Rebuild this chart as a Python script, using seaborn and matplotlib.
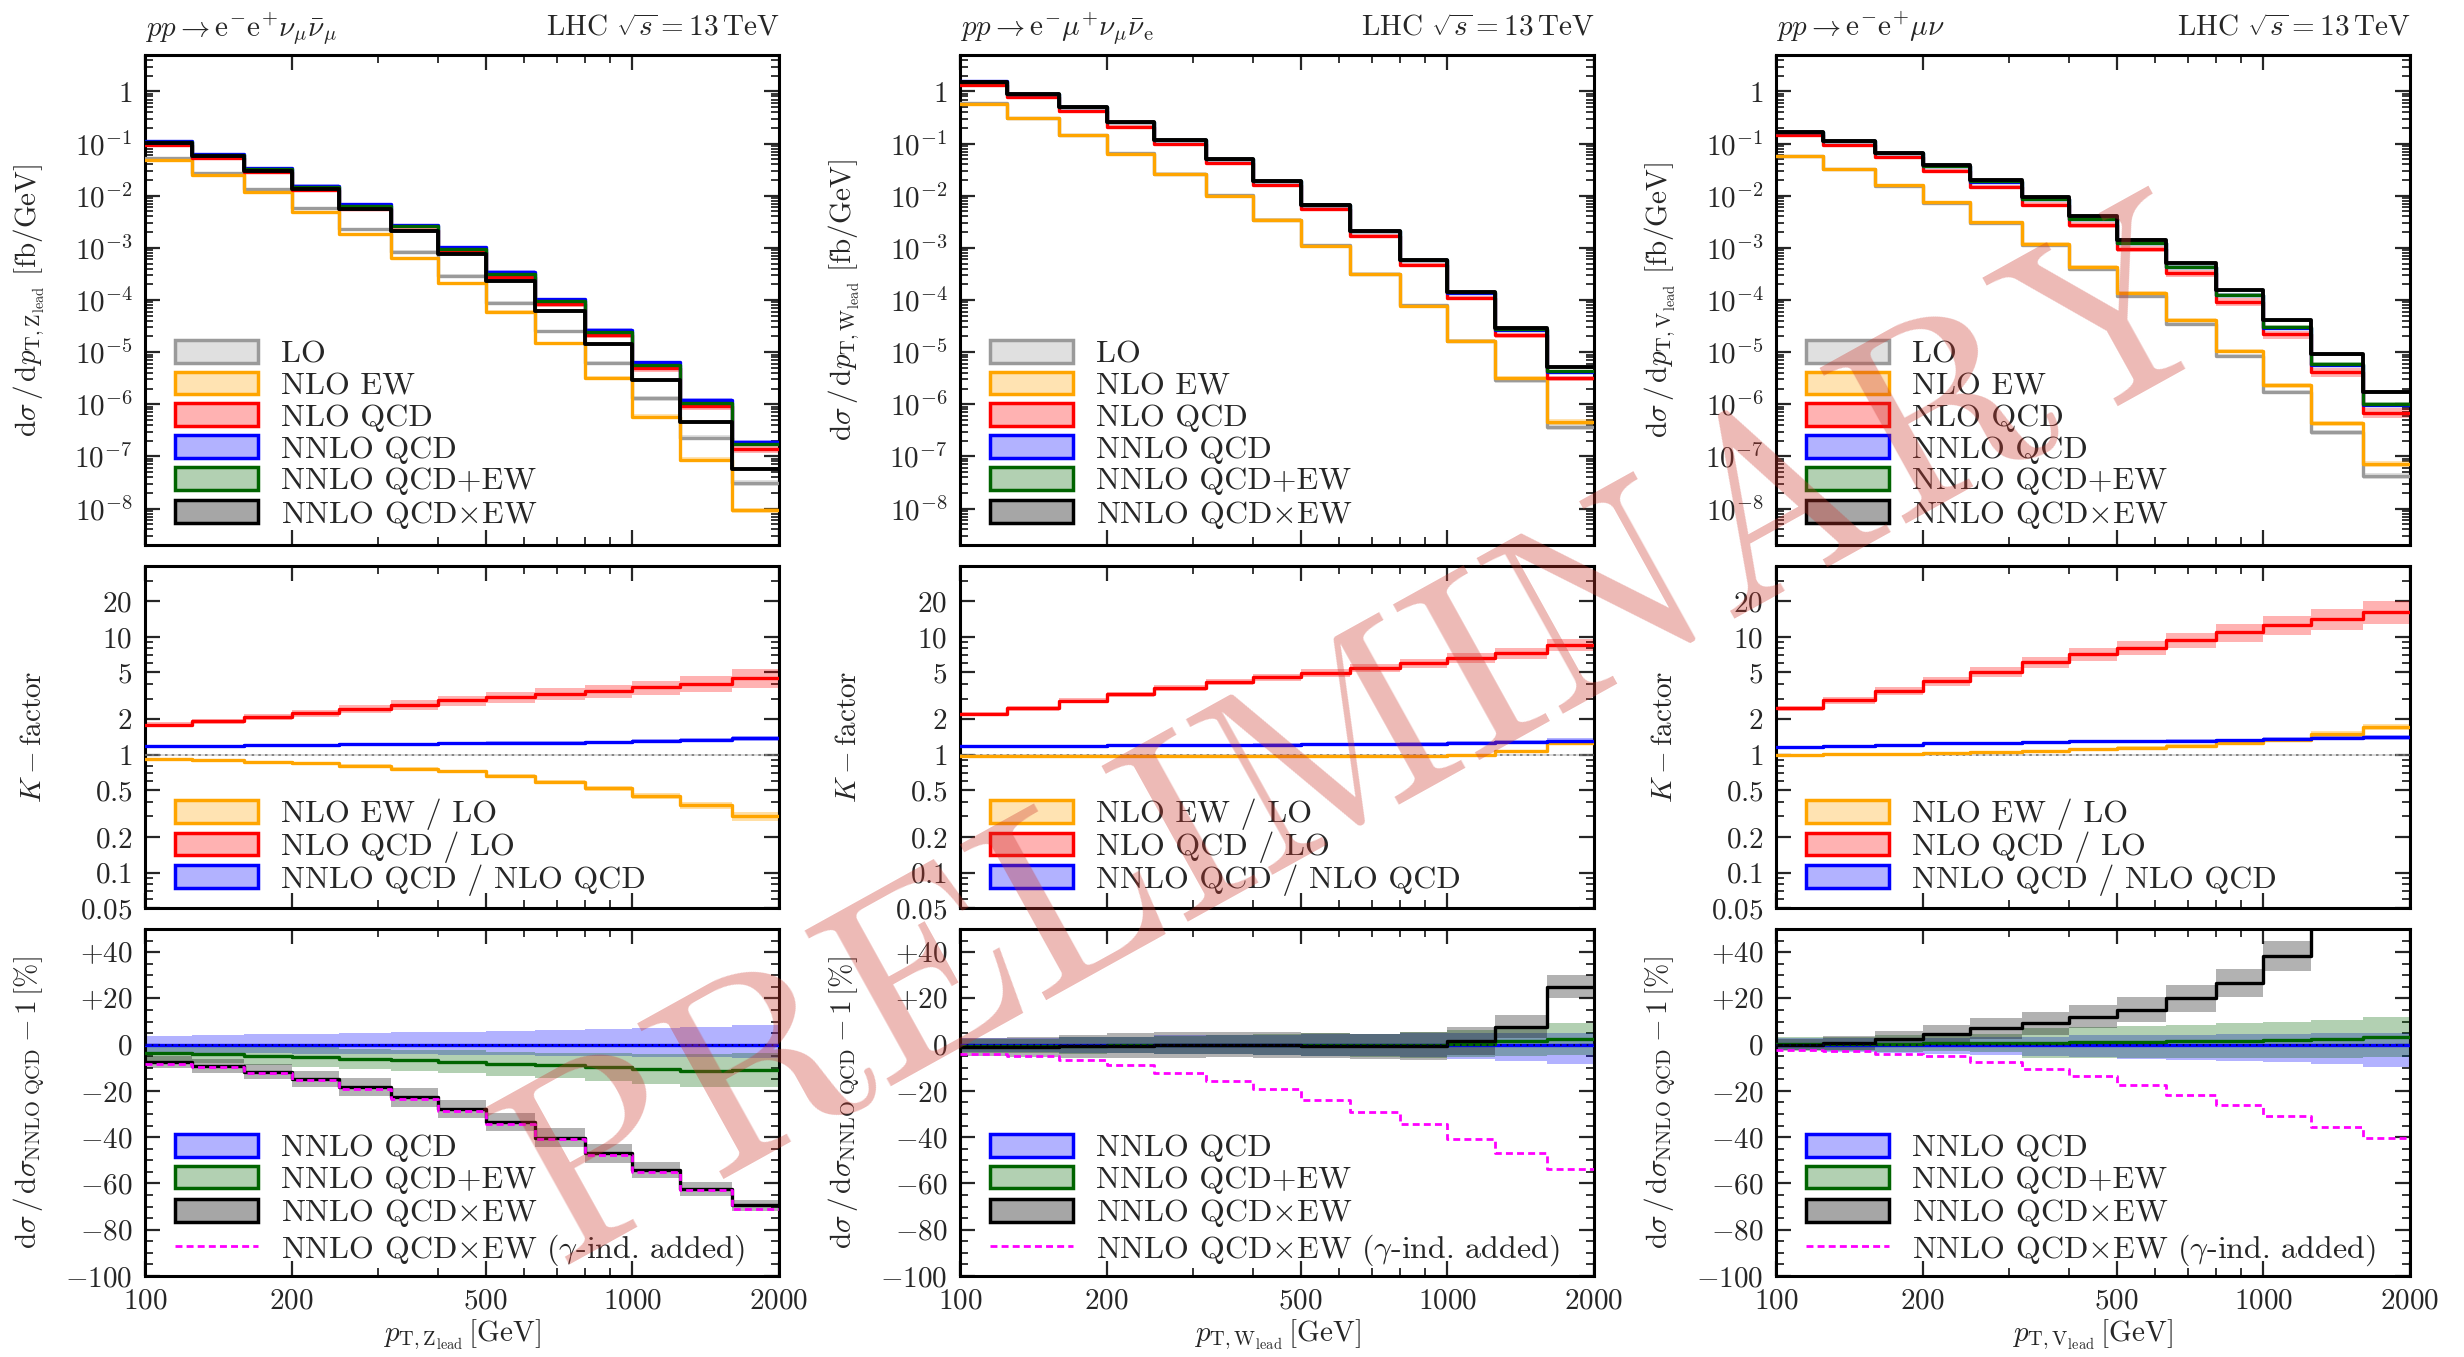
import numpy as np
import matplotlib
matplotlib.use("Agg")
import matplotlib.pyplot as plt
import seaborn as sns
from matplotlib.patches import Patch
from matplotlib.lines import Line2D
from matplotlib.ticker import FixedLocator, NullFormatter, LogLocator

# ---------------- data ----------------
bin_edges = [100, 125, 160, 200, 250, 320, 400, 500, 630, 800, 1000, 1250, 1600, 2000]
x_major = [100, 200, 500, 1000, 2000]
x_minor = [300, 400, 600, 700, 800, 900]

# Column 1: pp -> e- e+ nu_mu nubar_mu  (pT,Z_lead)
lo_1 = [0.053, 0.0276, 0.0134, 0.0057, 0.00226, 8.4e-4, 2.9e-4, 8.9e-5, 2.5e-5, 6.1e-6, 1.3e-6, 2.3e-7, 3.1e-8]
nloew_1 = [0.049, 0.0247, 0.0117, 0.0048, 0.00183, 6.4e-4, 2.1e-4, 5.85e-5, 1.48e-5, 3.17e-6, 5.8e-7, 8.6e-8, 9.3e-9]
nloqcd_1 = [0.095, 0.053, 0.0279, 0.0129, 0.0055, 0.00223, 8.4e-4, 2.76e-4, 8.2e-5, 2.12e-5, 4.9e-6, 9.2e-7, 1.39e-7]
nnloqcd_1 = [0.112, 0.063, 0.0338, 0.0157, 0.0068, 0.00277, 1.05e-3, 3.48e-4, 1.04e-4, 2.71e-5, 6.4e-6, 1.22e-6, 1.92e-7]
plusew_1 = [0.108, 0.0604, 0.0322, 0.01485, 0.00639, 0.00258, 9.72e-4, 3.19e-4, 9.46e-5, 2.45e-5, 5.72e-6, 1.08e-6, 1.71e-7]
timesew_1 = [0.1036, 0.0573, 0.0299, 0.01338, 0.00555, 0.00214, 7.57e-4, 2.31e-4, 6.22e-5, 1.44e-5, 2.92e-6, 4.6e-7, 5.86e-8]
k_ew_1 = [0.925, 0.896, 0.873, 0.845, 0.808, 0.762, 0.724, 0.657, 0.592, 0.52, 0.449, 0.374, 0.30]
k_qcd_1 = [1.80, 1.93, 2.08, 2.26, 2.44, 2.66, 2.89, 3.10, 3.29, 3.48, 3.74, 4.02, 4.49]
k_nnlo_1 = [1.175, 1.19, 1.21, 1.22, 1.23, 1.24, 1.25, 1.26, 1.27, 1.28, 1.30, 1.33, 1.38]
d_plusew_1 = [-3.6, -4.2, -4.8, -5.4, -6.1, -6.7, -7.4, -8.3, -9.0, -9.7, -10.7, -11.2, -10.9]
d_timesew_1 = [-7.5, -9.1, -11.6, -14.8, -18.4, -22.8, -27.9, -33.5, -40.2, -47.0, -54.3, -62.3, -69.5]
d_gamma_1 = [-8.2, -9.8, -12.3, -15.4, -19.0, -23.4, -28.5, -34.1, -40.8, -47.6, -55.0, -63.0, -71.0]
# uncertainty bands [%]
u_ew_1 = [2, 2, 2, 2, 3, 3, 3, 4, 4, 5, 6, 7, 8]
u_qcd_1 = [5, 5, 6, 7, 8, 9, 10, 11, 12, 13, 14, 16, 18]
u_nnlo_up_1 = [3.6, 4.0, 4.4, 4.8, 5.0, 5.3, 5.6, 6.0, 6.4, 6.8, 7.2, 7.8, 8.4]
u_nnlo_dn_1 = [3.6, 3.6, 3.8, 4.0, 4.0, 4.2, 4.4, 4.6, 4.8, 5.0, 5.2, 5.4, 5.6]
u_plusew_1 = [3.6, 3.8, 4.0, 4.2, 4.4, 4.6, 4.9, 5.2, 5.6, 6.0, 6.5, 7.0, 7.3]
u_timesew_1 = [2.7, 3.0, 3.3, 3.6, 4.0, 4.0, 4.0, 4.0, 4.0, 4.0, 3.5, 3.0, 2.5]

# Column 2: pp -> e- mu+ nu_mu nubar_e  (pT,W_lead)
lo_2 = [0.595, 0.313, 0.147, 0.065, 0.0265, 0.0101, 0.00347, 0.00112, 3.16e-4, 7.85e-5, 1.66e-5, 2.9e-6, 3.7e-7]
nloew_2 = [0.577, 0.305, 0.144, 0.0637, 0.0261, 0.00995, 0.00342, 0.0011, 3.1e-4, 7.7e-5, 1.66e-5, 3.13e-6, 4.63e-7]
nloqcd_2 = [1.327, 0.773, 0.422, 0.2126, 0.0978, 0.0419, 0.01575, 0.00553, 0.00172, 4.71e-4, 1.104e-4, 2.12e-5, 3.18e-6]
nnloqcd_2 = [1.559, 0.912, 0.502, 0.2551, 0.1183, 0.0509, 0.01922, 0.00677, 0.002116, 5.84e-4, 1.391e-4, 2.71e-5, 4.2e-6]
plusew_2 = [1.551, 0.907, 0.500, 0.2543, 0.1181, 0.0509, 0.01922, 0.00676, 0.002112, 5.83e-4, 1.398e-4, 2.75e-5, 4.31e-6]
timesew_2 = [1.543, 0.903, 0.4985, 0.2541, 0.1181, 0.0509, 0.0192, 0.00674, 0.002101, 5.80e-4, 1.412e-4, 2.92e-5, 5.25e-6]
k_ew_2 = [0.97, 0.975, 0.98, 0.98, 0.985, 0.985, 0.985, 0.98, 0.98, 0.98, 1.0, 1.08, 1.25]
k_qcd_2 = [2.23, 2.47, 2.87, 3.27, 3.69, 4.15, 4.54, 4.94, 5.44, 6.0, 6.65, 7.3, 8.6]
k_nnlo_2 = [1.175, 1.18, 1.19, 1.20, 1.21, 1.215, 1.22, 1.225, 1.23, 1.24, 1.26, 1.28, 1.32]
d_plusew_2 = [-0.5, -0.5, -0.4, -0.3, -0.2, 0.0, 0.0, -0.1, -0.2, -0.2, 0.5, 1.5, 2.5]
d_timesew_2 = [-1.0, -1.0, -0.7, -0.4, -0.2, 0.0, -0.1, -0.4, -0.7, -0.7, 1.5, 7.7, 25.0]
d_gamma_2 = [-3.9, -4.9, -6.8, -9.0, -12.2, -15.5, -19.3, -23.8, -29.3, -34.5, -40.6, -47.0, -53.7]
u_ew_2 = [1, 1, 1, 1, 1, 1, 1, 1, 1, 1, 2, 2, 3]
u_qcd_2 = [4, 4, 5, 5, 6, 6, 7, 8, 8, 9, 10, 11, 12]
u_nnlo_up_2 = [3.0, 3.0, 3.5, 3.5, 4.0, 4.0, 4.0, 4.5, 4.5, 5.0, 5.0, 5.0, 5.0]
u_nnlo_dn_2 = [3.0, 3.0, 3.5, 3.5, 4.0, 4.0, 4.5, 5.0, 5.0, 5.5, 6.0, 7.0, 8.5]
u_plusew_2 = [3.0, 3.0, 3.5, 3.5, 4.0, 4.0, 4.5, 5.0, 5.0, 5.5, 6.0, 6.5, 7.0]
u_timesew_2 = [4.0, 4.5, 5.0, 5.5, 5.5, 5.5, 5.5, 5.5, 5.5, 6.0, 6.0, 5.0, 5.0]

# Column 3: pp -> e- e+ mu nu  (pT,V_lead)
lo_3 = [0.058, 0.0327, 0.0156, 0.0072, 0.00295, 0.00111, 3.9e-4, 1.18e-4, 3.45e-5, 8.4e-6, 1.72e-6, 2.9e-7, 4.2e-8]
nloew_3 = [0.058, 0.033, 0.0159, 0.00742, 0.0031, 0.0012, 4.37e-4, 1.357e-4, 4.1e-5, 1.05e-5, 2.3e-6, 4.35e-7, 7.27e-8]
nloqcd_3 = [0.1433, 0.0945, 0.0543, 0.0302, 0.01484, 0.00675, 0.002785, 9.59e-4, 3.25e-4, 9.24e-5, 2.18e-5, 4.15e-6, 6.89e-7]
nnloqcd_3 = [0.1662, 0.1125, 0.0657, 0.03775, 0.0187, 0.00864, 0.00362, 0.001247, 4.26e-4, 1.229e-4, 2.965e-5, 5.73e-6, 9.71e-7]
plusew_3 = [0.1667, 0.1129, 0.066, 0.03798, 0.01883, 0.00871, 0.003656, 0.001262, 4.32e-4, 1.25e-4, 3.02e-5, 5.88e-6, 1.003e-6]
timesew_3 = [0.1662, 0.1135, 0.0673, 0.03945, 0.02001, 0.00944, 0.004054, 0.001437, 5.11e-4, 1.556e-4, 4.1e-5, 9.05e-6, 1.748e-6]
k_ew_3 = [1.0, 1.01, 1.02, 1.03, 1.05, 1.08, 1.12, 1.15, 1.19, 1.25, 1.34, 1.50, 1.73]
k_qcd_3 = [2.47, 2.89, 3.48, 4.2, 5.03, 6.08, 7.14, 8.13, 9.43, 11.0, 12.7, 14.3, 16.4]
k_nnlo_3 = [1.16, 1.19, 1.21, 1.25, 1.26, 1.28, 1.30, 1.30, 1.31, 1.33, 1.36, 1.38, 1.41]
d_plusew_3 = [0.3, 0.4, 0.5, 0.6, 0.7, 0.8, 1.0, 1.2, 1.4, 1.7, 2.0, 2.6, 3.3]
d_timesew_3 = [0.0, 0.9, 2.5, 4.5, 7.0, 9.3, 12.0, 15.2, 20.0, 26.6, 38.2, 58.0, 80.0]
d_gamma_3 = [-2.5, -2.9, -3.9, -4.9, -7.5, -10.4, -13.6, -17.4, -21.6, -26.0, -30.8, -35.6, -40.3]
u_ew_3 = [1, 1, 1, 2, 2, 2, 2, 3, 3, 3, 4, 5, 6]
u_qcd_3 = [5, 6, 7, 8, 10, 11, 13, 14, 15, 17, 18, 20, 22]
u_nnlo_up_3 = [3.0, 3.0, 3.0, 3.0, 3.5, 3.5, 4.0, 4.0, 4.0, 4.5, 4.5, 5.0, 5.0]
u_nnlo_dn_3 = [2.5, 3.0, 3.5, 4.0, 4.5, 5.0, 5.5, 6.0, 6.5, 7.0, 7.5, 8.5, 9.7]
u_plusew_3 = [3.0, 3.0, 3.5, 3.5, 4.0, 6.5, 6.8, 7.0, 7.2, 7.5, 7.8, 8.2, 8.5]
u_timesew_3 = [2.5, 3.0, 3.5, 4.0, 4.5, 5.0, 5.0, 5.5, 6.0, 6.0, 6.5, 7.0, 7.0]

u_lo = [4, 4, 5, 5, 6, 6, 7, 8, 8, 9, 10, 11, 12]
u_knnlo = [2, 2, 2, 2, 2, 2, 3, 3, 3, 3, 4, 4, 5]

process_titles = [r'$pp\rightarrow \mathrm{e^{-}e^{+}}\nu_{\mu}\bar{\nu}_{\mu}$',
                  r'$pp\rightarrow \mathrm{e^{-}}\mu^{+}\nu_{\mu}\bar{\nu}_{\mathrm{e}}$',
                  r'$pp\rightarrow \mathrm{e^{-}e^{+}}\mu\nu$']
boson_labels = ['Z', 'W', 'V']
energy_title = r'LHC $\sqrt{s}=13\,\mathrm{TeV}$'

top_labels = ['LO', 'NLO EW', 'NLO QCD', 'NNLO QCD', 'NNLO QCD+EW', r'NNLO QCD$\times$EW']
k_labels = ['NLO EW / LO', 'NLO QCD / LO', 'NNLO QCD / NLO QCD']
ratio_labels = ['NNLO QCD', 'NNLO QCD+EW', r'NNLO QCD$\times$EW', r'NNLO QCD$\times$EW ($\gamma$-ind. added)']

columns = [
    dict(lo=lo_1, ew=nloew_1, qcd=nloqcd_1, nnlo=nnloqcd_1, pew=plusew_1, tew=timesew_1,
         kew=k_ew_1, kqcd=k_qcd_1, knnlo=k_nnlo_1, dp=d_plusew_1, dt=d_timesew_1, dg=d_gamma_1,
         uew=u_ew_1, uqcd=u_qcd_1, unu=u_nnlo_up_1, und=u_nnlo_dn_1, up=u_plusew_1, ut=u_timesew_1),
    dict(lo=lo_2, ew=nloew_2, qcd=nloqcd_2, nnlo=nnloqcd_2, pew=plusew_2, tew=timesew_2,
         kew=k_ew_2, kqcd=k_qcd_2, knnlo=k_nnlo_2, dp=d_plusew_2, dt=d_timesew_2, dg=d_gamma_2,
         uew=u_ew_2, uqcd=u_qcd_2, unu=u_nnlo_up_2, und=u_nnlo_dn_2, up=u_plusew_2, ut=u_timesew_2),
    dict(lo=lo_3, ew=nloew_3, qcd=nloqcd_3, nnlo=nnloqcd_3, pew=plusew_3, tew=timesew_3,
         kew=k_ew_3, kqcd=k_qcd_3, knnlo=k_nnlo_3, dp=d_plusew_3, dt=d_timesew_3, dg=d_gamma_3,
         uew=u_ew_3, uqcd=u_qcd_3, unu=u_nnlo_up_3, und=u_nnlo_dn_3, up=u_plusew_3, ut=u_timesew_3),
]

# ---------------- style ----------------
sns.set_theme(style="ticks")
plt.rcParams['font.family'] = ['cmr10', 'DejaVu Serif']
plt.rcParams['mathtext.fontset'] = 'cm'
plt.rcParams['axes.formatter.use_mathtext'] = True
plt.rcParams['axes.unicode_minus'] = True

C_LO = '#9a9a9a'
C_EW = '#ffa500'
C_QCD = '#ff0000'
C_NNLO = '#0000ff'
C_PEW = '#006400'
C_TEW = '#000000'
C_GAM = '#ff00ff'
LW = 2.4
FS_TICK = 21
FS_LAB = 21
FS_LEG = 23

edges = np.array(bin_edges, dtype=float)


def ext(v):
    v = np.asarray(v, dtype=float)
    return np.append(v, v[-1])


def step_line(ax, vals, color, lw=LW, ls='-', z=3):
    sns.lineplot(x=edges, y=ext(vals), ax=ax, color=color, lw=lw, linestyle=ls,
                 drawstyle='steps-post', estimator=None, sort=False, legend=False, zorder=z)


def band(ax, lo, hi, color, alpha, z=2):
    ax.fill_between(edges, ext(lo), ext(hi), step='post', color=color, alpha=alpha, lw=0, zorder=z)


def rel_band(ax, vals, pct, color, alpha, z=2):
    v = np.asarray(vals, float)
    p = np.asarray(pct, float) / 100.0
    band(ax, v * (1 - p), v * (1 + p), color, alpha, z)


def style_x(ax, labels):
    ax.set_xscale('log')
    ax.set_xlim(100, 2000)
    ax.xaxis.set_major_locator(FixedLocator(x_major))
    ax.xaxis.set_minor_locator(FixedLocator(x_minor))
    ax.xaxis.set_minor_formatter(NullFormatter())
    if labels:
        ax.set_xticklabels([f'${v}$' for v in x_major])
    else:
        ax.set_xticklabels([])
    ax.tick_params(which='both', direction='in', top=True, right=True, labelsize=FS_TICK, pad=9)
    ax.tick_params(which='major', length=11, width=1.6)
    ax.tick_params(which='minor', length=6, width=1.3)
    for s in ax.spines.values():
        s.set_linewidth(2.2)
        s.set_color('black')


def leg_patch(color, alpha=0.3):
    from matplotlib.colors import to_rgba
    return Patch(facecolor=to_rgba(color, alpha), edgecolor=color, lw=2.5)


LEG_KW = dict(loc='lower left', frameon=False, fontsize=FS_LEG, handlelength=2.6, handleheight=0.72,
              handletextpad=0.7, borderaxespad=0.0, borderpad=0.25)

fig = plt.figure(figsize=(24.64, 13.57), dpi=100)
col_left = [145 / 2464, 960 / 2464, 1776 / 2464]
col_w = 634 / 2464
rows = [(1 - 545 / 1357, 490 / 1357), (1 - 908 / 1357, 342 / 1357), (1 - 1276 / 1357, 347 / 1357)]

for ci, d in enumerate(columns):
    b = boson_labels[ci]
    ax_t = fig.add_axes([col_left[ci], rows[0][0], col_w, rows[0][1]])
    ax_k = fig.add_axes([col_left[ci], rows[1][0], col_w, rows[1][1]])
    ax_r = fig.add_axes([col_left[ci], rows[2][0], col_w, rows[2][1]])

    # ---------- top panel ----------
    ax_t.set_yscale('log')
    nnlo = np.asarray(d['nnlo'], float)
    rel_band(ax_t, d['lo'], u_lo, C_LO, 0.3)
    rel_band(ax_t, d['ew'], u_lo, C_EW, 0.3)
    rel_band(ax_t, d['qcd'], d['uqcd'], C_QCD, 0.3)
    band(ax_t, nnlo * (1 - np.asarray(d['und']) / 100), nnlo * (1 + np.asarray(d['unu']) / 100), C_NNLO, 0.3)
    rel_band(ax_t, d['pew'], d['up'], C_PEW, 0.3)
    rel_band(ax_t, d['tew'], d['ut'], C_TEW, 0.3)
    step_line(ax_t, d['lo'], C_LO)
    step_line(ax_t, d['ew'], C_EW)
    step_line(ax_t, d['qcd'], C_QCD)
    step_line(ax_t, d['nnlo'], C_NNLO)
    step_line(ax_t, d['pew'], C_PEW)
    step_line(ax_t, d['tew'], C_TEW, lw=LW + 0.4)
    ax_t.set_ylim(2e-9, 5)
    style_x(ax_t, False)
    yt = [10.0 ** e for e in range(-8, 1)]
    ax_t.yaxis.set_major_locator(FixedLocator(yt))
    ax_t.set_yticklabels(['$1$' if e == 0 else f'$10^{{{e}}}$' for e in range(-8, 1)])
    ax_t.yaxis.set_minor_locator(LogLocator(base=10, subs=np.arange(2, 10), numticks=30))
    ax_t.yaxis.set_minor_formatter(NullFormatter())
    ax_t.set_ylabel(r'$\mathrm{d}\sigma\,/\,\mathrm{d}p_{\mathrm{T},\mathrm{%s_{lead}}}\ [\mathrm{fb}/\mathrm{GeV}]$' % b,
                    fontsize=FS_LAB)
    ax_t.set_title(process_titles[ci], loc='left', fontsize=21, pad=14)
    ax_t.set_title(energy_title, loc='right', fontsize=21, pad=14)
    handles = [leg_patch(C_LO), leg_patch(C_EW), leg_patch(C_QCD), leg_patch(C_NNLO),
               leg_patch(C_PEW), leg_patch(C_TEW, 0.35)]
    ax_t.legend(handles, top_labels, bbox_to_anchor=(0.035, 0.013), labelspacing=0.1, **LEG_KW)

    # ---------- K-factor panel ----------
    ax_k.set_yscale('log')
    ones = np.ones(len(edges) - 1)
    band(ax_k, ones * 0.985, ones * 1.015, C_LO, 0.35)
    ax_k.plot([100, 2000], [1, 1], color='#777777', lw=1.2, ls=(0, (1.5, 2.5)), zorder=3)
    rel_band(ax_k, d['kew'], d['uew'], C_EW, 0.35)
    rel_band(ax_k, d['kqcd'], d['uqcd'], C_QCD, 0.3)
    rel_band(ax_k, d['knnlo'], u_knnlo, C_NNLO, 0.3)
    step_line(ax_k, d['kew'], C_EW)
    step_line(ax_k, d['kqcd'], C_QCD)
    step_line(ax_k, d['knnlo'], C_NNLO)
    ax_k.set_ylim(0.05, 40)
    style_x(ax_k, False)
    kt = [0.05, 0.1, 0.2, 0.5, 1, 2, 5, 10, 20]
    ax_k.yaxis.set_major_locator(FixedLocator(kt))
    ax_k.set_yticklabels(['$0.05$', '$0.1$', '$0.2$', '$0.5$', '$1$', '$2$', '$5$', '$10$', '$20$'])
    ax_k.yaxis.set_minor_locator(LogLocator(base=10, subs=np.arange(2, 10), numticks=30))
    ax_k.yaxis.set_minor_formatter(NullFormatter())
    ax_k.set_ylabel(r'$K-\mathrm{factor}$', fontsize=FS_LAB, labelpad=18)
    ax_k.legend([leg_patch(C_EW), leg_patch(C_QCD), leg_patch(C_NNLO)], k_labels,
                bbox_to_anchor=(0.035, 0.012), labelspacing=0.04, **LEG_KW)

    # ---------- relative panel ----------
    zeros = np.zeros(len(edges) - 1)
    band(ax_r, -np.asarray(d['und'], float), np.asarray(d['unu'], float), C_NNLO, 0.3)
    dp = np.asarray(d['dp'], float)
    dt = np.asarray(d['dt'], float)
    band(ax_r, dp - np.asarray(d['up']), dp + np.asarray(d['up']), C_PEW, 0.3)
    band(ax_r, dt - np.asarray(d['ut']), dt + np.asarray(d['ut']), C_TEW, 0.3)
    step_line(ax_r, zeros, C_NNLO)
    ax_r.plot([100, 2000], [0, 0], color='#000044', lw=1.2, ls=(0, (1, 3)), zorder=4)
    step_line(ax_r, dp, C_PEW)
    step_line(ax_r, dt, C_TEW)
    step_line(ax_r, d['dg'], C_GAM, lw=2.0, ls=(0, (2.5, 1.5)), z=5)
    ax_r.set_ylim(-100, 50)
    style_x(ax_r, True)
    rt = list(range(-100, 41, 20))
    ax_r.yaxis.set_major_locator(FixedLocator(rt))
    ax_r.set_yticklabels([('$+%d$' % v) if v > 0 else ('$%d$' % v) for v in rt])
    ax_r.yaxis.set_minor_locator(FixedLocator(list(range(-95, 50, 5))))
    ax_r.set_ylabel(r'$\mathrm{d}\sigma\,/\,\mathrm{d}\sigma_{\mathrm{NNLO\ QCD}}-1\,[\%]$', fontsize=FS_LAB)
    ax_r.set_xlabel(r'$p_{\mathrm{T},\mathrm{%s_{lead}}}\,[\mathrm{GeV}]$' % b, fontsize=FS_LAB, labelpad=2)
    r_handles = [leg_patch(C_NNLO), leg_patch(C_PEW), leg_patch(C_TEW, 0.35),
                 Line2D([0], [0], color=C_GAM, lw=2.0, ls=(0, (2.5, 1.5)))]
    ax_r.legend(r_handles, ratio_labels, bbox_to_anchor=(0.035, 0.0), labelspacing=0.1, **LEG_KW)

    for ax in (ax_t, ax_k, ax_r):
        ax.yaxis.set_label_coords(-0.155, 0.5)

fig.text(0.555, 0.452, 'PRELIMINARY', rotation=29, fontsize=188, color=(0.80, 0.22, 0.18),
         alpha=0.35, ha='center', va='center', family=['cmr10', 'DejaVu Serif'], zorder=100)

fig.savefig('out.png', dpi=100)
